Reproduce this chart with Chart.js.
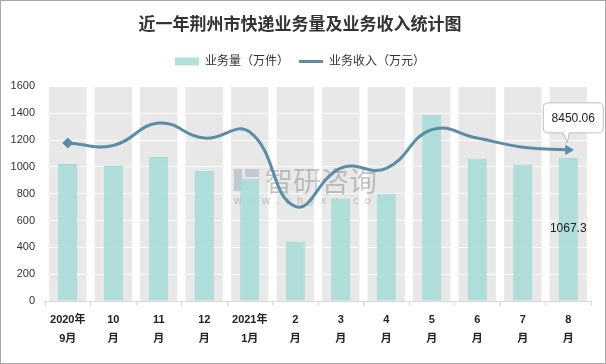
<!DOCTYPE html>
<html>
<head>
<meta charset="utf-8">
<script src="https://cdn.jsdelivr.net/npm/chart.js@4.4.1/dist/chart.umd.min.js"></script>
<style>
    html, body { margin: 0; padding: 0; background: #fff; }
    #caja { width: 606px; height: 364px; box-sizing: border-box; border: 1px solid #a6a6a6; position: relative; }
    canvas { display: block; }
</style>
</head>
<body>
<div id="caja"><canvas id="grafico" width="604" height="362"></canvas></div>
<script>
const meses = [
    ['2020年', '9月'], ['10', '月'], ['11', '月'], ['12', '月'], ['2021年', '1月'], ['2', '月'],
    ['3', '月'], ['4', '月'], ['5', '月'], ['6', '月'], ['7', '月'], ['8', '月']
];
const volumen = [1021, 1007, 1074, 972, 913, 444, 764, 801, 1389, 1062, 1017, 1067.3];
const ingresos = [8835, 8700, 9950, 9110, 9450, 5290, 7430, 7420, 9580, 9110, 8600, 8450.06];
const ticksY = [0, 200, 400, 600, 800, 1000, 1200, 1400, 1600];

const fuente = "'Liberation Sans', 'Noto Sans CJK SC', sans-serif";
const colorBarra = 'rgba(168, 219, 215, 0.9)';
const colorLinea = '#5a8ea7';

// franjas grises detras de cada categoria
const franjas = {
    id: 'franjas',
    beforeInit(chart) {
        const fitOrig = chart.legend.fit;
        chart.legend.fit = function () {
            fitOrig.bind(chart.legend)();
            this.height += 9;
        };
    },
    beforeDraw(chart) {
        const { ctx, scales: { x, y } } = chart;
        const ancho = (x.right - x.left) / meses.length * 0.82;
        const arriba = y.getPixelForValue(ticksY[ticksY.length - 1]);
        ctx.save();
        ctx.fillStyle = '#e8e8e8';
        meses.forEach((m, i) => {
            const cx = x.getPixelForValue(i);
            ctx.fillRect(cx - ancho / 2, arriba, ancho, y.bottom - arriba);
        });
        ctx.restore();
    }
};

const marca = {
    id: 'marca',
    beforeDatasetsDraw(chart) {
        const { ctx } = chart;
        ctx.save();
        ctx.globalAlpha = 0.4;
        ctx.fillStyle = '#8a9bb0';
        ctx.fillRect(233, 168, 8, 22);
        ctx.fillRect(244, 168, 14, 8);
        ctx.fillStyle = '#777';
        ctx.font = "28px 'Noto Sans CJK SC'";
        ctx.textBaseline = 'middle';
        ctx.fillText('智研咨询', 264, 180);
        ctx.font = "11px 'Liberation Sans'";
        ctx.fillText('w  w  w  .  c  h  y  x  x  .  c  o  m', 233, 200);
        ctx.restore();
    }
};

const etiquetas = {
    id: 'etiquetas',
    afterDatasetsDraw(chart) {
        const { ctx } = chart;
        const ult = meses.length - 1;
        const barra = chart.getDatasetMeta(0).data[ult];
        const punto = chart.getDatasetMeta(1).data[ult];
        ctx.save();
        ctx.font = "12px " + fuente;
        ctx.fillStyle = '#222';
        ctx.textAlign = 'center';
        ctx.textBaseline = 'middle';
        ctx.fillText(volumen[ult].toString(), barra.x, (barra.y + barra.base) / 2);

        // globo con el valor de ingresos
        const bx = punto.x - 25, by = punto.y - 47, bw = 60, bh = 30, r = 5;
        ctx.beginPath();
        ctx.moveTo(bx + r, by);
        ctx.lineTo(bx + bw - r, by);
        ctx.quadraticCurveTo(bx + bw, by, bx + bw, by + r);
        ctx.lineTo(bx + bw, by + bh - r);
        ctx.quadraticCurveTo(bx + bw, by + bh, bx + bw - r, by + bh);
        ctx.lineTo(punto.x + 1, by + bh);
        ctx.lineTo(punto.x - 1, punto.y - 7);
        ctx.lineTo(punto.x - 5, by + bh);
        ctx.lineTo(bx + r, by + bh);
        ctx.quadraticCurveTo(bx, by + bh, bx, by + bh - r);
        ctx.lineTo(bx, by + r);
        ctx.quadraticCurveTo(bx, by, bx + r, by);
        ctx.closePath();
        ctx.fillStyle = '#fff';
        ctx.fill();
        ctx.strokeStyle = '#bfbfbf';
        ctx.lineWidth = 1;
        ctx.stroke();
        ctx.fillStyle = '#222';
        ctx.fillText(ingresos[ult].toFixed(2), bx + bw / 2, by + bh / 2 + 1);
        ctx.restore();
    }
};

const estilos = ingresos.map((v, i) => i === 0 ? 'rectRot' : (i === ingresos.length - 1 ? 'triangle' : false));
const radios = ingresos.map((v, i) => (i === 0 || i === ingresos.length - 1) ? 5 : 0);
const giros = ingresos.map((v, i) => i === ingresos.length - 1 ? 90 : 0);

new Chart(document.getElementById('grafico'), {
    type: 'bar',
    data: {
        labels: meses,
        datasets: [{
            label: '业务量（万件）',
            data: volumen,
            backgroundColor: colorBarra,
            borderColor: '#a0d6d1',
            borderWidth: 1,
            barPercentage: 0.42,
            categoryPercentage: 1,
            yAxisID: 'y',
            order: 2
        }, {
            type: 'line',
            label: '业务收入（万元）',
            data: ingresos,
            borderColor: colorLinea,
            backgroundColor: colorLinea,
            borderWidth: 3,
            tension: 0.45,
            pointStyle: estilos,
            pointRadius: radios,
            pointRotation: giros,
            pointBorderWidth: 1,
            yAxisID: 'y2',
            order: 1
        }]
    },
    options: {
        responsive: false,
        animation: false,
        layout: { padding: { left: 8, right: 14, top: 4, bottom: 0 } },
        plugins: {
            title: {
                display: true,
                text: '近一年荆州市快递业务量及业务收入统计图',
                color: '#333',
                font: { family: "'Noto Sans CJK SC'", size: 17, weight: 'bold' },
                padding: { top: 8, bottom: 12 }
            },
            legend: {
                labels: {
                    color: '#333',
                    font: { family: fuente, size: 12 },
                    usePointStyle: true,
                    pointStyleWidth: 24,
                    boxHeight: 8,
                    padding: 10,
                    sort: (a, b) => a.datasetIndex - b.datasetIndex,
                    generateLabels: (chart) => {
                        const items = Chart.defaults.plugins.legend.labels.generateLabels(chart);
                        items.forEach(it => {
                            if (it.datasetIndex === 0) {
                                it.pointStyle = 'rect';
                                it.lineWidth = 0;
                                it.fillStyle = colorBarra;
                            } else {
                                it.pointStyle = 'line';
                                it.lineWidth = 3;
                                it.strokeStyle = colorLinea;
                            }
                        });
                        return items;
                    }
                }
            },
            tooltip: { enabled: false }
        },
        scales: {
            x: {
                grid: { offset: true, drawOnChartArea: false, color: '#d9d9d9', tickLength: 5 },
                border: { color: '#d9d9d9' },
                ticks: {
                    color: '#222',
                    font: { family: fuente, size: 11, weight: 'bold', lineHeight: 1.75 },
                    maxRotation: 0,
                    autoSkip: false,
                    padding: 4
                },
                afterFit: (s) => { s.height = 62; }
            },
            y: {
                min: 0,
                max: 1600,
                afterBuildTicks: (s) => { s.ticks = ticksY.map(v => ({ value: v })); },
                grid: { color: '#ffffff', lineWidth: 1, drawTicks: false },
                border: { display: false },
                ticks: {
                    color: '#333',
                    font: { family: fuente, size: 11 },
                    padding: 10,
                    callback: (v) => String(v)
                },
                afterFit: (s) => { s.width = 36; }
            },
            y2: {
                display: false,
                min: 0,
                max: 12000
            }
        }
    },
    plugins: [franjas, marca, etiquetas]
});
</script>
</body>
</html>
